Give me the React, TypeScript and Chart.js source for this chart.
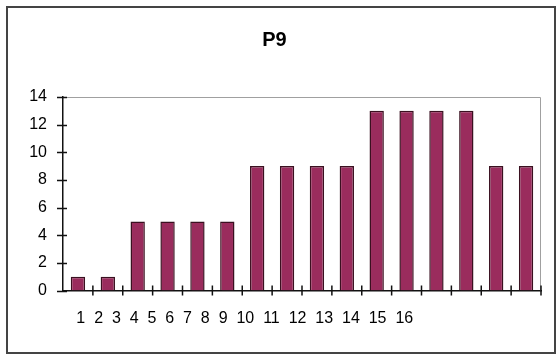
import React, { useEffect, useRef } from "react";
import { Chart, registerables } from "chart.js";

Chart.register(...registerables);

const categories = ["1", "2", "3", "4", "5", "6", "7", "8", "9", "10", "11", "12", "13", "14", "15", "16"];
const values = [1, 1, 5, 5, 5, 5, 9, 9, 9, 9, 13, 13, 13, 13, 9, 9];
const yTicks = [0, 2, 4, 6, 8, 10, 12, 14];
const titleText = "P9";
const xLabelText = "   " + categories.join("  ");

const FONT = "Arial, 'Liberation Sans', sans-serif";

const axisDecor = {
  id: "axisDecor",
  beforeDatasetsDraw(chart: any) {
    const { ctx, chartArea } = chart;
    ctx.save();
    ctx.strokeStyle = "#a0a0a0";
    ctx.lineWidth = 1;
    ctx.beginPath();
    ctx.moveTo(chartArea.left, chartArea.top + 0.5);
    ctx.lineTo(chartArea.right - 0.5, chartArea.top + 0.5);
    ctx.lineTo(chartArea.right - 0.5, chartArea.bottom);
    ctx.stroke();
    ctx.restore();
  },
  afterDraw(chart: any) {
    const { ctx } = chart;
    const x = chart.scales.x;
    const y = chart.scales.y;
    ctx.save();
    ctx.strokeStyle = "#111";
    ctx.lineWidth = 1.5;
    ctx.beginPath();
    y.ticks.forEach((_t: any, i: number) => {
      const py = Math.round(y.getPixelForTick(i)) + 0.5;
      ctx.moveTo(y.right - 6, py);
      ctx.lineTo(y.right + 4, py);
    });
    const n = categories.length;
    const half = (x.right - x.left) / n / 2;
    for (let i = 0; i < n; i++) {
      const px = x.getPixelForValue(i) + half;
      ctx.moveTo(px, x.top - 5);
      ctx.lineTo(px, x.top + 5);
    }
    ctx.stroke();
    ctx.restore();
  },
};

export default function App() {
  const ref = useRef<HTMLCanvasElement | null>(null);

  useEffect(() => {
    if (!ref.current) return;
    const chart = new Chart(ref.current, {
      type: "bar",
      data: {
        labels: categories,
        datasets: [
          {
            data: values,
            backgroundColor: "#9a2c5d",
            borderColor: "#3a1020",
            borderWidth: 1.5,
            barPercentage: 0.48,
            categoryPercentage: 1,
          },
        ],
      },
      options: {
        animation: false,
        responsive: false,
        maintainAspectRatio: false,
        layout: { padding: { left: 0, right: 13, top: 0, bottom: 0 } },
        plugins: {
          legend: { display: false },
          tooltip: { enabled: false },
          title: {
            display: true,
            text: titleText,
            color: "#000",
            font: { family: FONT, size: 20, weight: "bold" },
            padding: { top: 20, bottom: 45 },
          },
        },
        scales: {
          x: {
            grid: { display: false, drawTicks: false },
            border: { display: true, color: "#111", width: 1.5 },
            ticks: { display: false },
            title: {
              display: true,
              text: xLabelText,
              align: "start",
              color: "#000",
              font: { family: FONT, size: 16 },
              padding: { top: 0, bottom: 24 },
            },
            afterFit: (s: any) => {
              s.height = 61.5;
            },
          },
          y: {
            min: 0,
            max: 14,
            afterBuildTicks: (s: any) => {
              s.ticks = yTicks.map((v) => ({ value: v }));
            },
            grid: { display: false, drawTicks: false },
            border: { display: true, color: "#111", width: 1.5 },
            ticks: {
              color: "#000",
              font: { family: FONT, size: 16 },
              padding: 16,
            },
            afterFit: (s: any) => {
              s.width = 55;
            },
          },
        },
      },
      plugins: [axisDecor],
    });
    return () => chart.destroy();
  }, []);

  return (
    <div style={{ position: "fixed", left: 0, top: 0, width: 557, height: 356, background: "#fff" }}>
      <div
        style={{
          position: "absolute",
          left: 6,
          top: 6,
          width: 546,
          height: 344,
          border: "2px solid #444",
          background: "#fff",
        }}
      >
        <canvas ref={ref} width={546} height={344} style={{ display: "block" }} />
      </div>
    </div>
  );
}
